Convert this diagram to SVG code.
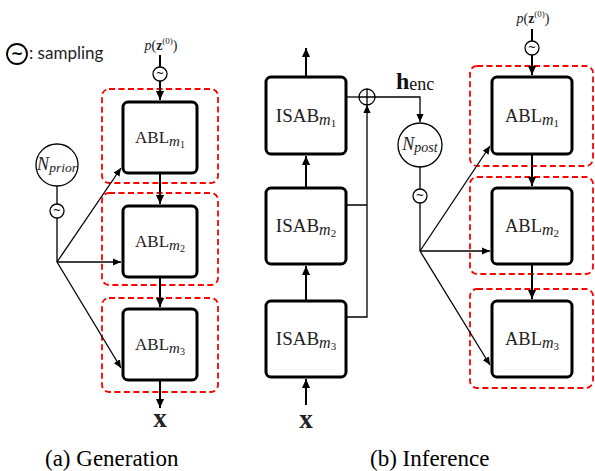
<svg xmlns="http://www.w3.org/2000/svg" width="595" height="471" viewBox="0 0 595 471">
<style>
.blk{fill:#fff;stroke:#000;stroke-width:3}
.red{fill:none;stroke:#f00;stroke-width:1.8;stroke-dasharray:6 3.5}
.cir{fill:#fff;stroke:#000;stroke-width:1.3}
.thk{fill:none;stroke:#000;stroke-width:2}
.thn{fill:none;stroke:#000;stroke-width:1.3}
.lbl{font-family:"Liberation Serif","Times New Roman",serif;fill:#222;text-anchor:middle}
.til{font-family:"DejaVu Sans",sans-serif;font-size:10px;text-anchor:middle}
.cap{font-family:"Liberation Serif","Times New Roman",serif;font-size:23px;fill:#000}
</style>
<defs>
<marker id="ah" viewBox="0 0 10 10" refX="10" refY="5" markerWidth="8" markerHeight="8" markerUnits="userSpaceOnUse" orient="auto"><path d="M0,0.5 L10,5 L0,9.5 z" fill="#000"/></marker>
<marker id="ah2" viewBox="0 0 10 10" refX="10" refY="5" markerWidth="9" markerHeight="9" markerUnits="userSpaceOnUse" orient="auto"><path d="M0,0.5 L10,5 L0,9.5 z" fill="#000"/></marker>
</defs>

<g id="legend">
<circle cx="17" cy="54" r="10" fill="#fff" stroke="#000" stroke-width="1.8"/>
<text x="17" y="59" font-family="DejaVu Sans,sans-serif" font-size="15" font-weight="bold" text-anchor="middle">~</text>
<text x="29" y="59" font-family="Lato,'Open Sans',sans-serif" font-size="17" fill="#222">: sampling</text>
</g>

<!-- (a) Generation -->
<g id="gen-prior-text"><text class="lbl" x="161" y="50" font-size="14"><tspan font-style="italic">p</tspan>(<tspan font-weight="bold">z</tspan><tspan font-size="9" dy="-6">(0)</tspan><tspan dy="6">)</tspan></text></g>
<g id="gen-sample0"><circle class="cir" cx="160" cy="74" r="7"/><text class="til" x="160" y="77">~</text></g>
<g id="gen-red1"><rect class="red" x="102" y="89" width="116" height="94" rx="7"/></g>
<g id="gen-red2"><rect class="red" x="102" y="193" width="116" height="92" rx="7"/></g>
<g id="gen-red3"><rect class="red" x="102" y="298" width="116" height="94" rx="7"/></g>
<g id="gen-abl1"><rect class="blk" x="123" y="102" width="74" height="71" rx="5"/><text class="lbl" x="160" y="143" font-size="17">ABL<tspan font-style="italic" font-size="15" dy="3">m</tspan><tspan font-size="10" dy="2">1</tspan></text></g>
<g id="gen-abl2"><rect class="blk" x="123" y="206" width="74" height="71" rx="5"/><text class="lbl" x="160" y="247" font-size="17">ABL<tspan font-style="italic" font-size="15" dy="3">m</tspan><tspan font-size="10" dy="2">2</tspan></text></g>
<g id="gen-abl3"><rect class="blk" x="123" y="309" width="74" height="71" rx="5"/><text class="lbl" x="160" y="350" font-size="17">ABL<tspan font-style="italic" font-size="15" dy="3">m</tspan><tspan font-size="10" dy="2">3</tspan></text></g>
<g id="gen-nprior"><circle class="cir" cx="57" cy="165" r="21"/><text class="lbl" x="57" y="170" font-size="18" font-style="italic">N<tspan font-size="13.5" dy="2">prior</tspan></text></g>
<g id="gen-sample1"><circle class="cir" cx="57" cy="211" r="7"/><text class="til" x="57" y="214">~</text></g>
<g id="gen-x"><text class="lbl" x="160" y="427" font-size="27" font-weight="bold" fill="#000">x</text></g>

<!-- (b) Inference -->
<g id="inf-isab1"><rect class="blk" x="266" y="77" width="80" height="77" rx="5"/><text class="lbl" x="306" y="122" font-size="19">ISAB<tspan font-style="italic" font-size="16" dy="3">m</tspan><tspan font-size="11" dy="2">1</tspan></text></g>
<g id="inf-isab2"><rect class="blk" x="266" y="188" width="80" height="76" rx="5"/><text class="lbl" x="306" y="232" font-size="19">ISAB<tspan font-style="italic" font-size="16" dy="3">m</tspan><tspan font-size="11" dy="2">2</tspan></text></g>
<g id="inf-isab3"><rect class="blk" x="266" y="301" width="80" height="76" rx="5"/><text class="lbl" x="306" y="345" font-size="19">ISAB<tspan font-style="italic" font-size="16" dy="3">m</tspan><tspan font-size="11" dy="2">3</tspan></text></g>
<g id="inf-x"><text class="lbl" x="306" y="428" font-size="27" font-weight="bold" fill="#000">x</text></g>
<g id="inf-plus"><circle class="cir" cx="367" cy="97" r="8"/><path class="thn" d="M359,97 H375 M367,89 V105"/></g>
<g id="inf-henc"><text x="396" y="89" font-family="'Liberation Serif','Times New Roman',serif" font-size="24" fill="#111"><tspan font-weight="bold">h</tspan><tspan font-size="18" dy="1">enc</tspan></text></g>
<g id="inf-npost"><circle class="cir" cx="420" cy="145" r="22"/><text class="lbl" x="420" y="150" font-size="18" font-style="italic">N<tspan font-size="14" dy="2">post</tspan></text></g>
<g id="inf-sample1"><circle class="cir" cx="420" cy="196" r="7"/><text class="til" x="420" y="199">~</text></g>
<g id="inf-prior-text"><text class="lbl" x="533" y="23" font-size="14"><tspan font-style="italic">p</tspan>(<tspan font-weight="bold">z</tspan><tspan font-size="9" dy="-6">(0)</tspan><tspan dy="6">)</tspan></text></g>
<g id="inf-sample0"><circle class="cir" cx="532" cy="48" r="7"/><text class="til" x="532" y="51">~</text></g>
<g id="inf-red1"><rect class="red" x="470" y="66" width="123" height="100" rx="7"/></g>
<g id="inf-red2"><rect class="red" x="470" y="177" width="123" height="97" rx="7"/></g>
<g id="inf-red3"><rect class="red" x="470" y="289" width="123" height="99" rx="7"/></g>
<g id="inf-abl1"><rect class="blk" x="492" y="77" width="80" height="77" rx="5"/><text class="lbl" x="532" y="122" font-size="18.5">ABL<tspan font-style="italic" font-size="16" dy="3">m</tspan><tspan font-size="11" dy="2">1</tspan></text></g>
<g id="inf-abl2"><rect class="blk" x="492" y="188" width="80" height="76" rx="5"/><text class="lbl" x="532" y="232" font-size="18.5">ABL<tspan font-style="italic" font-size="16" dy="3">m</tspan><tspan font-size="11" dy="2">2</tspan></text></g>
<g id="inf-abl3"><rect class="blk" x="492" y="301" width="80" height="76" rx="5"/><text class="lbl" x="532" y="345" font-size="18.5">ABL<tspan font-style="italic" font-size="16" dy="3">m</tspan><tspan font-size="11" dy="2">3</tspan></text></g>

<g id="connectors">
<path class="thk" d="M160,55 V67"/>
<path class="thk" d="M160,81 V100" marker-end="url(#ah2)"/>
<path class="thk" d="M160,174 V204" marker-end="url(#ah2)"/>
<path class="thk" d="M160,278 V307" marker-end="url(#ah2)"/>
<path class="thk" d="M160,381 V408" marker-end="url(#ah2)"/>
<path class="thn" d="M57,186 V204 M57,218 V262"/>
<path class="thn" d="M57,262 L121,168" marker-end="url(#ah)"/>
<path class="thn" d="M57,262 H121" marker-end="url(#ah)"/>
<path class="thn" d="M57,262 L121,368" marker-end="url(#ah)"/>
<path class="thk" d="M306,405 V379" marker-end="url(#ah2)"/>
<path class="thk" d="M306,300 V266" marker-end="url(#ah2)"/>
<path class="thk" d="M306,187 V156" marker-end="url(#ah2)"/>
<path class="thk" d="M306,76 V48" marker-end="url(#ah2)"/>
<path class="thn" d="M347,97 H359"/>
<path class="thn" d="M347,205 H367 M347,317 H367 V105" marker-end="url(#ah)"/>
<path class="thn" d="M375,97 H420 V122" marker-end="url(#ah)"/>
<path class="thn" d="M420,167 V189 M420,203 V251"/>
<path class="thn" d="M420,251 L490,146" marker-end="url(#ah)"/>
<path class="thn" d="M420,251 H490" marker-end="url(#ah)"/>
<path class="thn" d="M420,251 L490,365" marker-end="url(#ah)"/>
<path class="thk" d="M532,29 V41"/>
<path class="thk" d="M532,55 V75" marker-end="url(#ah2)"/>
<path class="thk" d="M532,155 V186" marker-end="url(#ah2)"/>
<path class="thk" d="M532,265 V299" marker-end="url(#ah2)"/>
</g>

<g id="captions">
<text class="cap" x="45" y="466">(a) Generation</text>
<text class="cap" x="370" y="466">(b) Inference</text>
</g>
</svg>
